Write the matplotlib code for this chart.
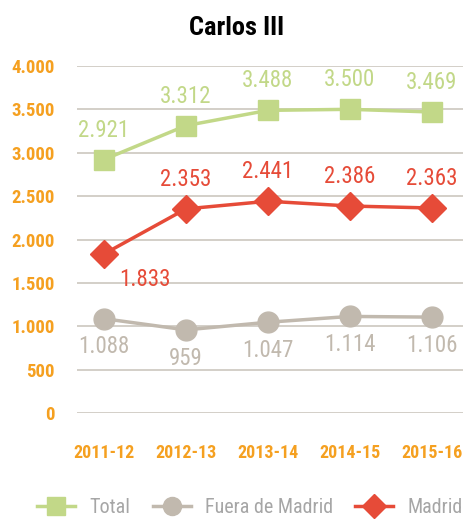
import matplotlib
matplotlib.use("Agg")
import matplotlib.pyplot as plt
from matplotlib.lines import Line2D

plt.rcParams['font.family'] = ['Roboto Condensed', 'DejaVu Sans']

categories = ["2011-12", "2012-13", "2013-14", "2014-15", "2015-16"]
total = [2921, 3312, 3488, 3500, 3469]
fuera = [1088, 959, 1047, 1114, 1106]
madrid = [1833, 2353, 2441, 2386, 2363]
yticks = [0, 500, 1000, 1500, 2000, 2500, 3000, 3500, 4000]
ytick_labels = ["0", "500", "1.000", "1.500", "2.000", "2.500", "3.000", "3.500", "4.000"]

GREEN = "#c2d888"
GRAY = "#c1b9ae"
RED = "#e64b38"
ORANGE = "#f5a020"
GRID = "#ccc7bf"

def fmt(v):
    return f"{v:,}".replace(",", ".")

fig = plt.figure(figsize=(4.63, 5.19), dpi=100)
ax = fig.add_axes([0.166, 0.204, 0.834, 0.669])
x = list(range(len(categories)))

ax.plot(x, total, color=GREEN, lw=2.5, marker="s", ms=15, clip_on=False, zorder=3)
ax.plot(x, fuera, color=GRAY, lw=2.5, marker="o", ms=15, clip_on=False, zorder=3)
ax.plot(x, madrid, color=RED, lw=2.5, marker="D", ms=14, clip_on=False, zorder=3)

LBL = 16.5
for i, v in enumerate(total):
    ax.annotate(fmt(v), (i, v), xytext=(0, 13), textcoords="offset points",
                ha="center", va="bottom", color=GREEN, fontsize=LBL)
for i, v in enumerate(fuera):
    ax.annotate(fmt(v), (i, v), xytext=(0, -12), textcoords="offset points",
                ha="center", va="top", color=GRAY, fontsize=LBL)
for i, v in enumerate(madrid):
    if i == 0:
        ax.annotate(fmt(v), (i, v), xytext=(11, -10), textcoords="offset points",
                    ha="left", va="top", color=RED, fontsize=LBL)
    else:
        ax.annotate(fmt(v), (i, v), xytext=(0, 13), textcoords="offset points",
                    ha="center", va="bottom", color=RED, fontsize=LBL)

ax.set_xlim(-0.33, 4.38)
ax.set_ylim(0, 4000)
ax.set_yticks(yticks)
ax.set_yticklabels(ytick_labels)
ax.set_xticks(x)
ax.set_xticklabels(categories)
ax.grid(axis="y", color=GRID, lw=1.2)
ax.set_axisbelow(True)
for s in ax.spines.values():
    s.set_visible(False)
ax.tick_params(axis="both", length=0, colors=ORANGE)
ax.tick_params(axis="y", pad=16)
ax.tick_params(axis="x", pad=22)
for lab in ax.get_yticklabels():
    lab.set_fontsize(13.5)
    lab.set_fontweight("bold")
    lab.set_color(ORANGE)
for lab in ax.get_xticklabels():
    lab.set_fontsize(13)
    lab.set_fontweight("bold")
    lab.set_color(ORANGE)

fig.text(0.51, 0.947, "Carlos III", ha="center", va="center", fontsize=19,
         fontweight="bold", color="black")

handles = [
    Line2D([0], [0], color=GREEN, lw=2.5, marker="s", ms=13),
    Line2D([0], [0], color=GRAY, lw=2.5, marker="o", ms=13),
    Line2D([0], [0], color=RED, lw=2.5, marker="D", ms=12),
]
leg = fig.legend(handles, ["Total", "Fuera de Madrid", "Madrid"], loc="center",
                 bbox_to_anchor=(0.54, 0.022), ncol=3, frameon=False, fontsize=14.5,
                 handlelength=1.9, columnspacing=1.1, handletextpad=0.7)
for t in leg.get_texts():
    t.set_color("#a6a6a6")

fig.savefig("out.png", dpi=100)
